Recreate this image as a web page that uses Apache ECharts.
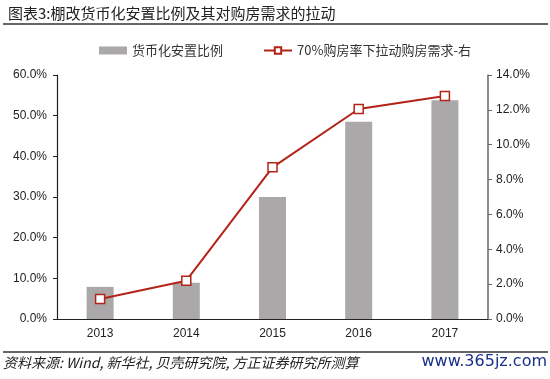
<!DOCTYPE html>
<html><head><meta charset="utf-8">
<script src="https://cdn.jsdelivr.net/npm/echarts@6/dist/echarts.min.js"></script>
<style>html,body{margin:0;padding:0;background:#fff}#c{width:550px;height:379px}</style>
</head><body><div id="c"></div>
<script>
const categories = ['2013','2014','2015','2016','2017'];
const monetizationRatio = [7.9, 8.9, 30.0, 48.5, 53.8];
const demandBoost = [1.15, 2.2, 8.7, 12.05, 12.8];
const FONT = '"Noto Sans CJK SC", sans-serif';
const NUMFONT = '"Liberation Sans", Arial, sans-serif';
const chart = echarts.init(document.getElementById('c'), null, {renderer:'canvas'});
chart.setOption({
  animation:false,
  textStyle:{fontFamily:FONT},
  title:{text:'图表3:棚改货币化安置比例及其对购房需求的拉动', left:3, top:1,
    textStyle:{fontSize:15, fontWeight:'normal', color:'#222', fontFamily:FONT}},
  graphic:[
    {type:'line', shape:{x1:3,y1:24,x2:548,y2:24}, style:{stroke:'#333', lineWidth:1.5}},
    {type:'line', shape:{x1:3,y1:352,x2:548,y2:352}, style:{stroke:'#333', lineWidth:1.5}},
    {type:'text', left:3, top:356, style:{text:'资料来源: Wind, 新华社, 贝壳研究院, 方正证券研究所测算', fill:'#222', font:'italic 14px '+FONT}},
    {type:'text', right:3, top:354, style:{text:'www.365jz.com', fill:'#1a2f8a', font:'16px "DejaVu Sans", sans-serif'}}
  ],
  legend:{top:39, left:94, itemGap:40, itemWidth:28, itemHeight:8,
    textStyle:{fontSize:13, color:'#333', fontFamily:FONT},
    data:[{name:'货币化安置比例', icon:'rect'}, {name:'70%购房率下拉动购房需求-右'}]},
  grid:{left:57, right:62, top:75, bottom:60, containLabel:false},
  xAxis:{type:'category', data:categories,
    axisLine:{lineStyle:{color:'#222', width:1.2}}, axisTick:{show:false},
    axisLabel:{color:'#222', fontSize:12, margin:9, fontFamily:NUMFONT}},
  yAxis:[
    {type:'value', min:0, max:60, interval:10, position:'left',
     axisLine:{show:true, lineStyle:{color:'#222', width:1.2}},
     axisTick:{show:true, length:4, lineStyle:{color:'#222'}},
     splitLine:{show:false},
     axisLabel:{color:'#222', fontSize:12, margin:10, formatter:v=>v.toFixed(1)+'%', fontFamily:NUMFONT}},
    {type:'value', min:0, max:14, interval:2, position:'right',
     axisLine:{show:true, lineStyle:{color:'#666', width:1.5}},
     axisTick:{show:true, length:4, lineStyle:{color:'#666'}},
     splitLine:{show:false},
     axisLabel:{color:'#222', fontSize:12, margin:8, formatter:v=>v.toFixed(1)+'%', fontFamily:NUMFONT}}
  ],
  series:[
    {name:'货币化安置比例', type:'bar', data:monetizationRatio, barWidth:27,
     itemStyle:{color:'#aaa8a8'}},
    {name:'70%购房率下拉动购房需求-右', type:'line', yAxisIndex:1, data:demandBoost,
     symbol:'rect', symbolSize:9, lineStyle:{color:'#b32418', width:2},
     itemStyle:{color:'#fff', borderColor:'#b32418', borderWidth:1.5}}
  ]
});
</script></body></html>
